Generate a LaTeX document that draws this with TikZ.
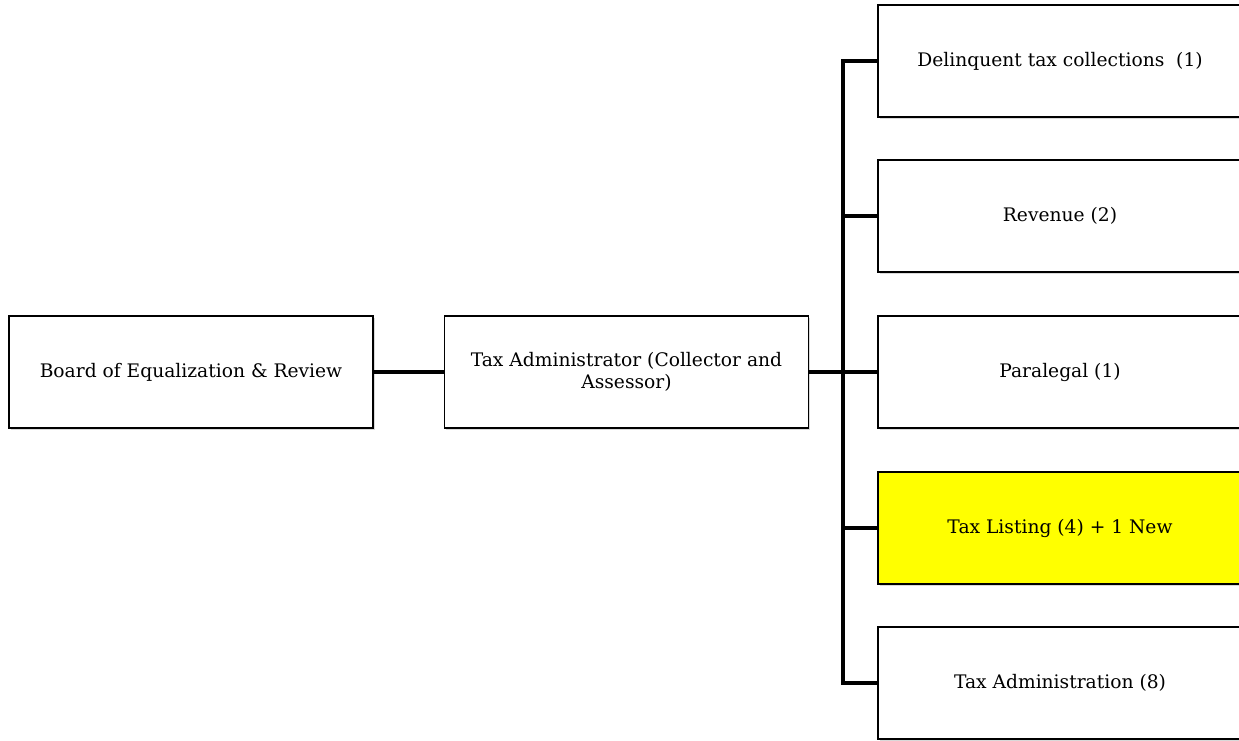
\documentclass[tikz,border=0pt]{standalone}
\usepackage{fontspec}
\setmainfont{DejaVu Serif}
\usetikzlibrary{shadows}
\definecolor{newyellow}{RGB}{255,255,0}
\tikzstyle{orgbox}=[rectangle,draw=black,line width=1.2pt,fill=white,
                    minimum width=273pt,minimum height=84pt,align=center,
                    font=\fontsize{14}{17}\selectfont,
                    drop shadow={shadow xshift=1.2pt,shadow yshift=-1.5pt,opacity=.3}]
\tikzstyle{newbox}=[orgbox,fill=newyellow]
\tikzstyle{wire}=[line width=3pt]

\begin{document}
\begin{tikzpicture}[x=0.75pt,y=-0.75pt]
    \useasboundingbox (0,0) rectangle (1239,740);
    \newcommand{\colx}{1060}
    \node (board) at (191, 372) [orgbox]{Board of Equalization \& Review};
    \node (admin) at (626.5, 372) [orgbox]{Tax Administrator (Collector and\\Assessor)};
    \node (delinq) at (\colx, 61) [orgbox]{Delinquent tax collections~~(1)};
    \node (revenue) at (\colx, 216) [orgbox]{Revenue (2)};
    \node (paralegal) at (\colx, 372) [orgbox]{Paralegal (1)};
    \node (listing) at (\colx, 528) [newbox]{Tax Listing (4) + 1 New};
    \node (taxadmin) at (\colx, 683) [orgbox]{Tax Administration (8)};
    \draw[wire] (board) -- (admin);
    \draw[wire] (admin.east) -- ++(34,0) coordinate (hub);
    \foreach \n in {delinq,revenue,paralegal,listing,taxadmin}
      \draw[wire] (hub) |- (\n.west);
  \end{tikzpicture}
\end{document}
